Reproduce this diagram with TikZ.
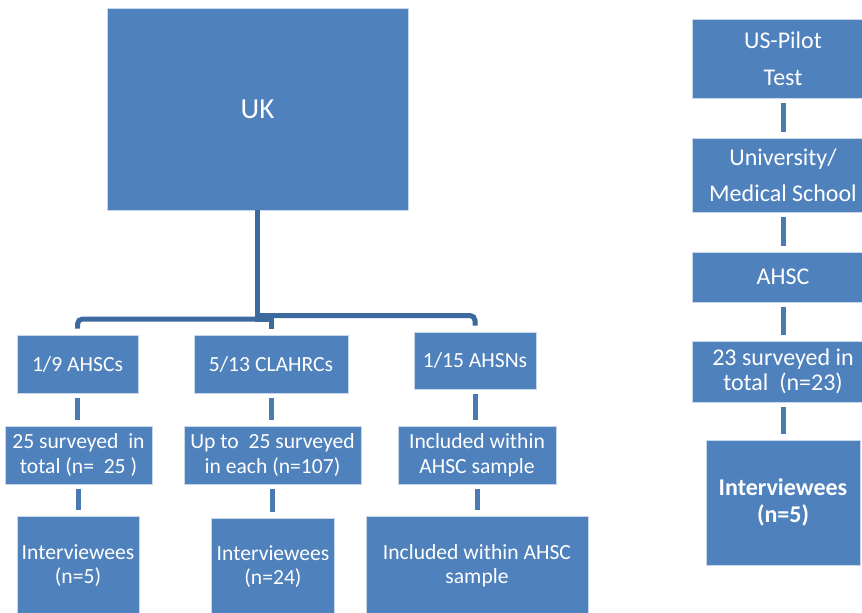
\documentclass[tikz,border=0pt]{standalone}
\usepackage{fontspec}
\setmainfont{Carlito}
\definecolor{boxblue}{HTML}{4F81BD}
\definecolor{boxedge}{HTML}{C9D7EA}
\definecolor{elbowblue}{HTML}{3D6A9E}
\definecolor{linkblue}{HTML}{4A79B4}
\tikzset{
  box/.style={fill=boxblue, draw=boxedge, line width=0.8pt, text=white, align=center,
    inner sep=0pt, anchor=center, font=\fontsize{21.6}{24.5}\selectfont},
  rbox/.style={box, font=\fontsize{24}{25.5}\selectfont},
  elbow/.style={draw=elbowblue, line width=5pt, rounded corners=5pt, shorten >=6pt},
  trunk/.style={draw=elbowblue, line width=5pt},
  link/.style={draw=linkblue, line width=5pt, shorten <=5pt, shorten >=6pt},
}
\begin{document}
\begin{tikzpicture}[x=1pt,y=-1pt]
\useasboundingbox (0,0) rectangle (862,613);
% UK branch
\node[box, minimum width=301pt, minimum height=202pt, font=\fontsize{29}{32}\selectfont] (uk) at (257.5,109) {UK};
\node[box, minimum width=121pt, minimum height=58pt] (ahscs) at (77.5,364) {1/9 AHSCs};
\node[box, minimum width=154pt, minimum height=58pt] (clahrc) at (271,364) {5/13 CLAHRCs};
\node[box, minimum width=122pt, minimum height=57pt] (ahsn) at (475,360.5) {1/15 AHSNs};
\node[box, minimum width=147pt, minimum height=58pt] (s1) at (78.5,455) {25 surveyed\ \ in\\total (n=\ \ 25 )};
\node[box, minimum width=177pt, minimum height=58pt] (s2) at (272.5,455) {Up to\ \ 25 surveyed\\in each (n=107)};
\node[box, minimum width=158pt, minimum height=58pt] (s3) at (477,455) {Included within\\AHSC sample};
\node[box, minimum width=122pt, minimum height=99pt] (i1) at (78,565.5) {Interviewees\\(n=5)};
\node[box, minimum width=123pt, minimum height=97pt] (i2) at (273,566.5) {Interviewees\\(n=24)};
\node[box, minimum width=222pt, minimum height=99pt] (i3) at (477,565.5) {Included within AHSC\\sample};
% elbow connectors
\coordinate (jl) at (257.5,319);
\coordinate (jr) at (257.5,315.5);
\coordinate (jb) at (257.5,321.5);
\draw[trunk] (uk.south) -- (jb);
\draw[elbow] (jl) -| (ahscs.north);
\draw[elbow, rounded corners=0pt] (jl) -| (clahrc.north);
\draw[elbow] (jr) -| (ahsn.north);
% vertical links
\draw[link] (ahscs.south) -- (ahscs.south |- s1.north);
\draw[link] (clahrc.south) -- (clahrc.south |- s2.north);
\draw[link] (ahsn.south) -- (ahsn.south |- s3.north);
\draw[link] (s1.south) -- (s1.south |- i1.north);
\draw[link] (s2.south) -- (s2.south |- i2.north);
\draw[link] (s3.south) -- (s3.south |- i3.north);
% US branch
\node[rbox, minimum width=182pt, minimum height=79pt, font=\fontsize{24}{37}\selectfont] (us) at (783,58.5) {US-Pilot\\Test};
\node[rbox, minimum width=182pt, minimum height=74pt, font=\fontsize{24}{36}\selectfont] (univ) at (783,175) {University/\\Medical School};
\node[rbox, minimum width=182pt, minimum height=50pt] (ahsc) at (783,277) {AHSC};
\node[rbox, minimum width=182pt, minimum height=61pt] (s4) at (783,371.5) {23 surveyed in\\total\ \ (n=23)};
\node[rbox, minimum width=154pt, minimum height=125pt, font=\fontsize{24}{27}\selectfont\bfseries] (i4) at (783,502.5) {Interviewees\\(n=5)};
\draw[link] (us.south) -- (univ.north);
\draw[link] (univ.south) -- (ahsc.north);
\draw[link] (ahsc.south) -- (s4.north);
\draw[link] (s4.south) -- (i4.north);
\end{tikzpicture}
\end{document}
